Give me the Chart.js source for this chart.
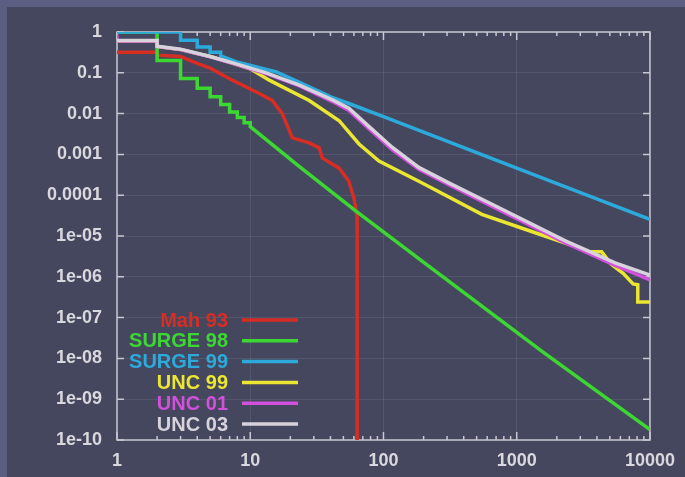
<!DOCTYPE html>
<html>
<head>
<meta charset="utf-8">
<title>CCDF log-log</title>
<script src="https://cdn.jsdelivr.net/npm/chart.js@4.4.1/dist/chart.umd.min.js"></script>
<style>
  html, body { margin: 0; padding: 0; background: #5b5e80; }
  #wrap { width: 685px; height: 477px; }
</style>
</head>
<body>
<div id="wrap"><canvas id="myChart" width="685" height="477"></canvas></div>
<script>
// axis ticks
const xTickValues = [1, 10, 100, 1000, 10000];
const xTickLabels = ['1', '10', '100', '1000', '10000'];
const yTickValues = [1, 0.1, 0.01, 0.001, 0.0001, 1e-5, 1e-6, 1e-7, 1e-8, 1e-9, 1e-10];
const yTickLabels = ['1', '0.1', '0.01', '0.001', '0.0001', '1e-05', '1e-06', '1e-07', '1e-08', '1e-09', '1e-10'];

// series
const seriesNames = ['Mah 93', 'SURGE 98', 'SURGE 99', 'UNC 99', 'UNC 01', 'UNC 03'];
const seriesColors = ['#d72d23', '#3cd732', '#2daadc', '#ebe632', '#d250dc', '#d7d2dc'];

const mahX = [1, 2, 2, 3, 4, 5, 7.4, 11.7, 14.6, 17.4, 20.7, 27.7, 32.9, 34.7, 46.5, 55, 60, 63.4, 63.4];
const mahY = [0.32, 0.32, 0.27, 0.25, 0.17, 0.13, 0.065, 0.031, 0.021, 0.01, 0.00255, 0.00192, 0.00145, 0.00082, 0.00046, 0.00022, 0.000084, 0.00003, 1e-12];

const surge98X = [1, 2, 2, 3, 3, 4, 4, 5, 5, 6, 6, 7, 7, 8, 8, 9, 9, 10, 10, 23.4, 62.5, 230, 1585, 10000];
const surge98Y = [1, 1, 0.2, 0.2, 0.073, 0.073, 0.042, 0.042, 0.026, 0.026, 0.0166, 0.0166, 0.011, 0.011, 0.008, 0.008, 0.006, 0.006, 0.0048, 5e-4, 4e-5, 1.6e-6, 1.4e-8, 1.8e-10];

const surge99X = [1, 3, 3, 4, 4, 5, 5, 6, 6, 7.9, 15.7, 23.4, 41, 55, 100, 1000, 10000];
const surge99Y = [1, 1, 0.63, 0.63, 0.43, 0.43, 0.32, 0.32, 0.26, 0.185, 0.105, 0.058, 0.025, 0.0177, 0.0084, 4.6e-4, 2.55e-5];

const unc99X = [1, 2, 2, 3, 5, 7.4, 10, 14, 27.7, 46.5, 65.5, 92.5, 184, 230, 547, 1293, 3060, 3435, 4337, 5070, 6320, 7470, 8100, 8100, 10000];
const unc99Y = [0.6, 0.6, 0.44, 0.37, 0.25, 0.17, 0.125, 0.065, 0.021, 0.0067, 0.0018, 0.00069, 0.00022, 0.00015, 3.4e-5, 1.29e-5, 4.9e-6, 4.1e-6, 4.1e-6, 2.1e-6, 1.2e-6, 6.7e-7, 6.4e-7, 2.4e-7, 2.4e-7];

const unc01X = [1, 1, 2, 2, 3, 5, 7.4, 13.2, 23.4, 41, 55, 78, 116, 184, 309, 731, 2318, 5475, 10000];
const unc01Y = [0.85, 0.6, 0.6, 0.44, 0.37, 0.245, 0.17, 0.095, 0.048, 0.02, 0.012, 0.0042, 0.0013, 0.00043, 0.00018, 4.4e-5, 6.8e-6, 1.9e-6, 8.4e-7];

const unc03X = [1, 2, 2, 3, 5, 7.4, 13.2, 23.4, 41, 55, 78, 116, 184, 309, 731, 2318, 5475, 10000];
const unc03Y = [0.62, 0.62, 0.45, 0.38, 0.25, 0.175, 0.1, 0.05, 0.022, 0.0135, 0.0048, 0.0015, 0.00048, 0.0002, 5e-5, 7.6e-6, 2.2e-6, 1.1e-6];

const seriesX = [mahX, surge98X, surge99X, unc99X, unc01X, unc03X];
const seriesY = [mahY, surge98Y, surge99Y, unc99Y, unc01Y, unc03Y];

const FONT = "'Liberation Sans', Arial, sans-serif";

function toPoints(xs, ys) {
  return xs.map((v, i) => ({ x: v, y: ys[i] }));
}

const datasets = seriesNames.map((name, i) => ({
  label: name,
  data: toPoints(seriesX[i], seriesY[i]),
  borderColor: seriesColors[i],
  borderWidth: 3.5,
  pointRadius: 0,
  tension: 0,
  fill: false,
  order: seriesNames.length - i
}));

const decorPlugin = {
  id: 'decor',
  beforeDraw(chart) {
    const ctx = chart.ctx;
    ctx.save();
    ctx.fillStyle = '#5b5e80';
    ctx.fillRect(0, 0, chart.width, chart.height);
    ctx.fillStyle = '#45475e';
    ctx.fillRect(7, 7, chart.width - 7, chart.height - 7);
    ctx.restore();
  },
  beforeDatasetsDraw(chart) {
    const { ctx, chartArea: a, scales } = chart;
    const x = scales.x, y = scales.y;
    ctx.save();
    ctx.strokeStyle = '#c8c8d2';
    ctx.lineWidth = 1.5;
    ctx.strokeRect(a.left, a.top, a.right - a.left, a.bottom - a.top);
    ctx.beginPath();
    xTickValues.forEach((v, i) => {
      const px = x.getPixelForValue(v);
      ctx.moveTo(px, a.bottom); ctx.lineTo(px, a.bottom - 8);
      ctx.moveTo(px, a.top); ctx.lineTo(px, a.top + 8);
      if (i < xTickValues.length - 1) {
        for (let k = 2; k < 10; k++) {
          const mx = x.getPixelForValue(v * k);
          ctx.moveTo(mx, a.bottom); ctx.lineTo(mx, a.bottom - 4);
          ctx.moveTo(mx, a.top); ctx.lineTo(mx, a.top + 4);
        }
      }
    });
    yTickValues.forEach(v => {
      const py = y.getPixelForValue(v);
      ctx.moveTo(a.left, py); ctx.lineTo(a.left + 7, py);
      ctx.moveTo(a.right, py); ctx.lineTo(a.right - 7, py);
    });
    ctx.stroke();
    ctx.restore();
  },
  afterDatasetsDraw(chart) {
    const ctx = chart.ctx;
    ctx.save();
    ctx.font = 'bold 20px ' + FONT;
    ctx.textAlign = 'right';
    ctx.textBaseline = 'middle';
    seriesNames.forEach((name, i) => {
      const ly = 320 + i * 20.8;
      ctx.fillStyle = seriesColors[i];
      ctx.fillText(name, 228, ly + 1);
      ctx.strokeStyle = seriesColors[i];
      ctx.lineWidth = 3.5;
      ctx.beginPath();
      ctx.moveTo(242, ly); ctx.lineTo(298, ly);
      ctx.stroke();
    });
    ctx.restore();
  }
};

const ctx = document.getElementById('myChart').getContext('2d');
const myChart = new Chart(ctx, {
  type: 'line',
  data: { datasets: datasets },
  plugins: [decorPlugin],
  options: {
    responsive: false,
    animation: false,
    devicePixelRatio: 1,
    layout: { padding: { top: 32, right: 33, left: 0, bottom: 0 } },
    plugins: { legend: { display: false }, tooltip: { enabled: false } },
    scales: {
      x: {
        type: 'logarithmic',
        min: 1, max: 10000,
        afterBuildTicks: s => { s.ticks = xTickValues.map(v => ({ value: v })); },
        afterFit: s => { s.height = 37; },
        grid: { color: 'rgba(255,255,255,0.08)', drawTicks: false },
        border: { display: false },
        ticks: {
          autoSkip: false, maxRotation: 0, padding: 10,
          color: '#d8d8de',
          font: { family: FONT, size: 18, weight: 'bold' },
          callback: v => xTickLabels[xTickValues.indexOf(v)]
        }
      },
      y: {
        type: 'logarithmic',
        min: 1e-10, max: 1,
        afterBuildTicks: s => { s.ticks = yTickValues.map(v => ({ value: v })); },
        afterFit: s => { s.width = 117; },
        grid: { color: 'rgba(255,255,255,0.08)', drawTicks: false },
        border: { display: false },
        ticks: {
          autoSkip: false, padding: 15,
          color: '#d8d8de',
          font: { family: FONT, size: 18, weight: 'bold' },
          callback: v => {
            const i = yTickValues.findIndex(t => Math.abs(Math.log10(t) - Math.log10(v)) < 1e-6);
            return i >= 0 ? yTickLabels[i] : '';
          }
        }
      }
    }
  }
});
</script>
</body>
</html>
